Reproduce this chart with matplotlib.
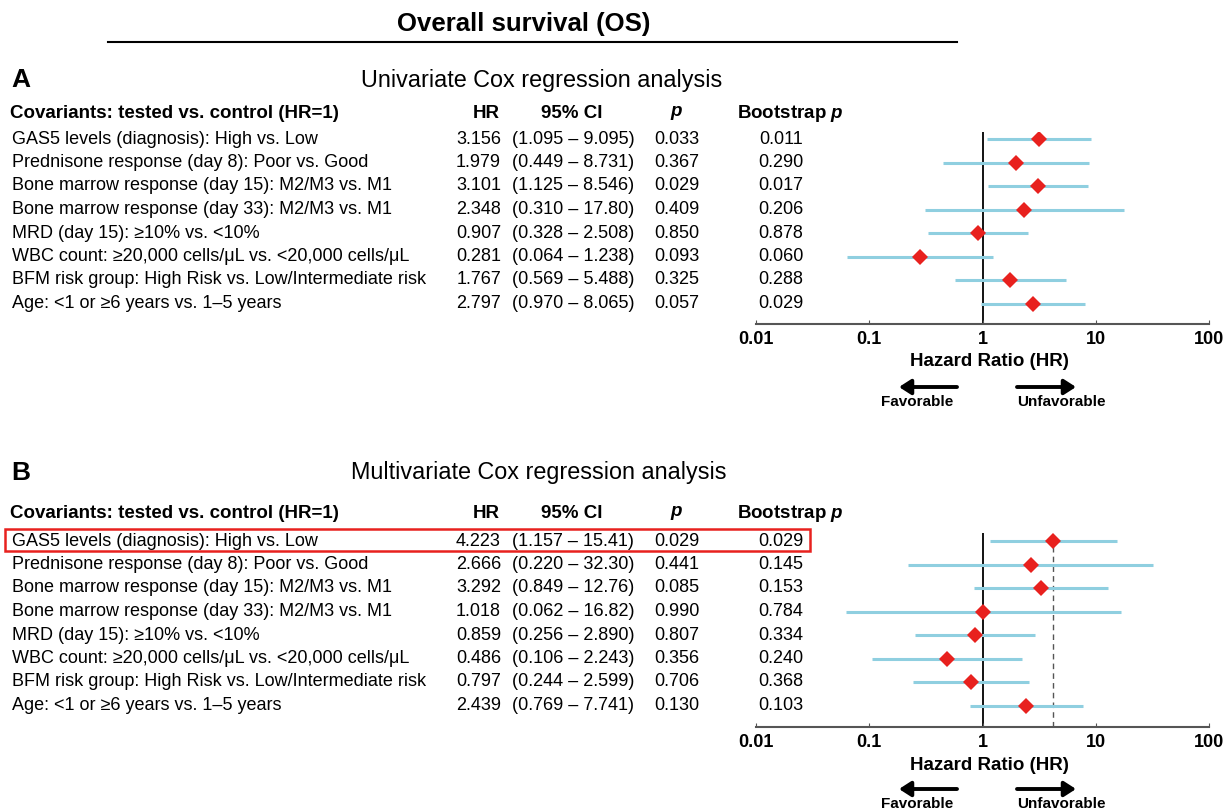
import numpy as np
import matplotlib
matplotlib.use('Agg')
import matplotlib.pyplot as plt
from matplotlib.patches import Rectangle, FancyArrowPatch
import matplotlib.transforms as mtransforms

plt.rcParams['font.family'] = ['Liberation Sans', 'DejaVu Sans']
plt.rcParams['mathtext.fontset'] = 'custom'
plt.rcParams['mathtext.rm'] = 'Liberation Sans'
plt.rcParams['mathtext.it'] = 'Liberation Sans:italic:bold'
plt.rcParams['mathtext.bf'] = 'Liberation Sans:bold'

# ---- data ----
covariates = [
    'GAS5 levels (diagnosis): High vs. Low',
    'Prednisone response (day 8): Poor vs. Good',
    'Bone marrow response (day 15): M2/M3 vs. M1',
    'Bone marrow response (day 33): M2/M3 vs. M1',
    'MRD (day 15): \u226510% vs. <10%',
    'WBC count: \u226520,000 cells/\u03bcL vs. <20,000 cells/\u03bcL',
    'BFM risk group: High Risk vs. Low/Intermediate risk',
    'Age: <1 or \u22656 years vs. 1\u20135 years',
]

uni_hr = [3.156, 1.979, 3.101, 2.348, 0.907, 0.281, 1.767, 2.797]
uni_lo = [1.095, 0.449, 1.125, 0.310, 0.328, 0.064, 0.569, 0.970]
uni_hi = [9.095, 8.731, 8.546, 17.80, 2.508, 1.238, 5.488, 8.065]
uni_p = ['0.033', '0.367', '0.029', '0.409', '0.850', '0.093', '0.325', '0.057']
uni_boot = ['0.011', '0.290', '0.017', '0.206', '0.878', '0.060', '0.288', '0.029']

multi_hr = [4.223, 2.666, 3.292, 1.018, 0.859, 0.486, 0.797, 2.439]
multi_lo = [1.157, 0.220, 0.849, 0.062, 0.256, 0.106, 0.244, 0.769]
multi_hi = [15.41, 32.30, 12.76, 16.82, 2.890, 2.243, 2.599, 7.741]
multi_p = ['0.029', '0.441', '0.085', '0.990', '0.807', '0.356', '0.706', '0.130']
multi_boot = ['0.029', '0.145', '0.153', '0.784', '0.334', '0.240', '0.368', '0.103']

tick_vals = [0.01, 0.1, 1, 10, 100]
tick_labels = ['0.01', '0.1', '1', '10', '100']

W, H = 1226, 809
ci_color = '#8fcfe0'
pt_color = '#e8211e'
ROW_SP = 23.5  # pixel spacing between rows


def fx(x):
    return x / W


def fy(y):
    return 1 - y / H


def fmt(v):
    return f'{v:.3f}' if v < 10 else f'{v:.2f}'


fig = plt.figure(figsize=(W / 100, H / 100), dpi=100)

# overall title
fig.text(fx(524), fy(24), 'Overall survival (OS)', ha='center', va='center',
         fontsize=18.5, fontweight='bold')
fig.add_artist(plt.Line2D([fx(108), fx(957)], [fy(42), fy(42)], color='black', lw=1.5))


def panel(title_y, header_y, ax_top, row0, ax_bot, arrow_y, letter, title_x, title,
          hr, lo, hi, pv, boot, ref_line=False):
    fig.text(fx(11), fy(title_y), letter, ha='left', va='center', fontsize=19, fontweight='bold')
    fig.text(fx(title_x), fy(title_y), title, ha='center', va='center', fontsize=16.8)

    hkw = dict(va='center', fontsize=13.5, fontweight='bold')
    fig.text(fx(10), fy(header_y), 'Covariants: tested vs. control (HR=1)', ha='left', **hkw)
    fig.text(fx(486), fy(header_y), 'HR', ha='center', **hkw)
    fig.text(fx(572), fy(header_y), '95% CI', ha='center', **hkw)
    fig.text(fx(677), fy(header_y), '$p$', ha='center', **hkw)
    fig.text(fx(737), fy(header_y), 'Bootstrap $p$', ha='left', **hkw)

    # forest axes
    n = len(hr)
    rows = np.arange(n)
    ax = fig.add_axes([fx(756), fy(ax_bot), fx(1209) - fx(756), (ax_bot - ax_top) / H])
    ax.set_xscale('log')
    ax.set_xlim(0.01, 100)
    last = row0 + (n - 1) * ROW_SP
    ax.set_ylim((n - 1) + (ax_bot - last) / ROW_SP, -(row0 - ax_top) / ROW_SP)
    ax.hlines(rows, lo, hi, color=ci_color, lw=2.2, zorder=2)
    ax.plot(hr, rows, 'D', color=pt_color, markersize=8.5, zorder=3, markeredgewidth=0)
    ax.axvline(1, color='black', lw=1.3, zorder=1)
    if ref_line:
        ax.axvline(hr[0], color='#555555', lw=1.0, ls=(0, (4, 3)), zorder=1)
    for s in ['top', 'right', 'left']:
        ax.spines[s].set_visible(False)
    ax.spines['bottom'].set_color('#555555')
    ax.spines['bottom'].set_linewidth(1.5)
    ax.set_yticks([])
    ax.set_xticks(tick_vals)
    ax.set_xticklabels(tick_labels, fontsize=13, fontweight='bold')
    ax.minorticks_off()
    ax.tick_params(axis='x', length=3, direction='in', pad=5, color='#555555')
    ax.set_xlabel('Hazard Ratio (HR)', fontsize=13.5, fontweight='bold', labelpad=4, x=0.515)

    # table text aligned to rows (y in data of forest axes)
    tr = mtransforms.blended_transform_factory(fig.transFigure, ax.transData)
    for i in range(n):
        kw = dict(transform=tr, va='center', fontsize=13, clip_on=False)
        fig.text(fx(12), i, covariates[i], ha='left', **kw)
        fig.text(fx(501), i, f'{hr[i]:.3f}', ha='right', **kw)
        fig.text(fx(573), i, f'({fmt(lo[i])} \u2013 {fmt(hi[i])})', ha='center', **kw)
        fig.text(fx(677), i, pv[i], ha='center', **kw)
        fig.text(fx(781), i, boot[i], ha='center', **kw)

    # direction arrows
    for x0, x1 in [(957, 899), (1017, 1076)]:
        fig.add_artist(FancyArrowPatch(
            (fx(x0), fy(arrow_y)), (fx(x1), fy(arrow_y)), transform=fig.transFigure,
            arrowstyle='-|>,head_length=7,head_width=4.5', lw=2.8, color='black',
            mutation_scale=1, shrinkA=0, shrinkB=0))
    fig.text(fx(917), fy(arrow_y + 15), 'Favorable', ha='center', va='center', fontsize=11,
             fontweight='bold')
    fig.text(fx(1061), fy(arrow_y + 15), 'Unfavorable', ha='center', va='center', fontsize=11,
             fontweight='bold')
    return ax


panel(80, 113, 132, 139, 324, 387, 'A', 542, 'Univariate Cox regression analysis',
      uni_hr, uni_lo, uni_hi, uni_p, uni_boot)
panel(473, 513, 533, 541, 727, 789, 'B', 539, 'Multivariate Cox regression analysis',
      multi_hr, multi_lo, multi_hi, multi_p, multi_boot, ref_line=True)

# highlight box around GAS5 row in multivariate table
fig.add_artist(Rectangle((fx(5), fy(551)), fx(810) - fx(5), (551 - 529) / H,
                         transform=fig.transFigure, fill=False, edgecolor='#e8211e', lw=1.8))

fig.savefig('out.png', dpi=100, facecolor='white')
